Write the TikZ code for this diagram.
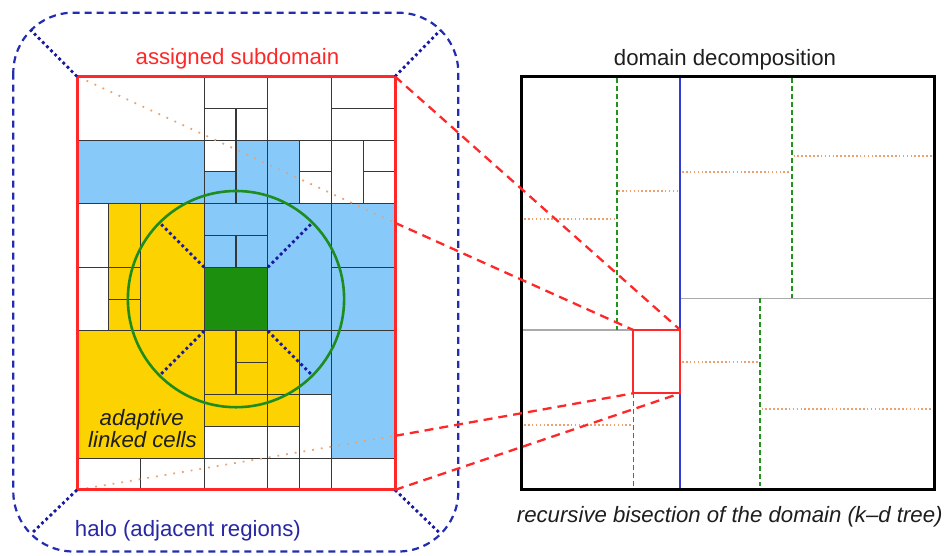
\documentclass[tikz,border=0pt]{standalone}
\usepackage{fontspec}
\setmainfont{Liberation Sans}
\usetikzlibrary{calc}
\definecolor{cellblue}{RGB}{135,202,250}
\definecolor{cellyellow}{RGB}{252,210,0}
\definecolor{cellgreen}{RGB}{28,144,14}
\definecolor{circgreen}{RGB}{30,140,30}
\definecolor{redc}{RGB}{255,40,40}
\definecolor{halob}{RGB}{35,45,175}
\definecolor{halotext}{RGB}{40,40,165}
\definecolor{dotb}{RGB}{25,25,160}
\definecolor{orangedot}{RGB}{235,160,110}
\definecolor{gridc}{RGB}{55,55,55}
\definecolor{lgray}{RGB}{170,170,170}
\definecolor{kdblue}{RGB}{50,60,210}
\definecolor{kdgreen}{RGB}{30,150,30}
\definecolor{txtc}{RGB}{30,30,30}
\tikzset{
  lbl/.style={font=\fontsize{22.2}{26}\selectfont, inner sep=0pt},
  ilbl/.style={font=\fontsize{22.2}{26}\selectfont\itshape, inner sep=0pt, text=txtc},
  cell/.style={draw=gridc, line width=1.1pt},
  halobox/.style={draw=halob, line width=2.2pt, dash pattern=on 7pt off 5pt, rounded corners=60pt},
  bluedots/.style={draw=dotb, line width=2.8pt, line cap=butt, dash pattern=on 2.8pt off 3pt},
  odotsL/.style={draw=orangedot, line width=1.7pt, dash pattern=on 1.8pt off 7pt},
  odotsR/.style={draw=orangedot, line width=1.8pt, dash pattern=on 1.6pt off 2.3pt},
  reddash/.style={draw=redc, line width=2.3pt, dash pattern=on 9pt off 6pt},
  kdgdash/.style={draw=kdgreen, line width=2pt, dash pattern=on 5pt off 3pt},
  kdgthin/.style={draw=kdgreen, line width=1.3pt, dash pattern=on 5pt off 3pt},
  graysplit/.style={draw=lgray, line width=1.5pt},
}
\begin{document}
\begin{tikzpicture}[x=1pt,y=-1pt]
\useasboundingbox (0,0) rectangle (951,556);
\fill[white] (0,0) rectangle (951,556);

% ---------- left: subdomain cells ----------
\begin{scope}[shift={(77,76.5)}, x=31.8pt, y=-31.8pt]
  \foreach \a/\b/\c/\d in {0/0/4/2, 4/0/6/1, 4/1/5/2, 5/1/6/2, 6/0/8/2, 8/0/10/1, 8/1/10/2,
      4/2/5/3, 7/2/8/3, 7/3/8/4, 8/2/9/4, 9/2/10/3, 9/3/10/4, 0/4/1/6, 0/6/1/8,
      7/10/8/12, 4/11/6/12, 6/11/7/12, 0/12/2/13, 2/12/4/13, 4/12/6/13, 6/12/7/13, 7/12/8/13, 8/12/10/13}
    \filldraw[cell, fill=white] (\a,\b) rectangle (\c,\d);
  \foreach \a/\b/\c/\d in {0/2/4/4, 4/3/5/4, 5/2/6/4, 6/2/7/4, 4/4/6/5, 4/5/5/6, 5/5/6/6,
      6/4/8/8, 8/4/10/6, 8/6/10/8, 7/8/8/10, 8/8/10/12}
    \filldraw[cell, fill=cellblue] (\a,\b) rectangle (\c,\d);
  \foreach \a/\b/\c/\d in {1/4/2/6, 1/6/2/7, 1/7/2/8, 2/4/4/8, 0/8/4/12, 4/8/5/10, 5/8/6/9,
      5/9/6/10, 6/8/7/10, 4/10/6/11, 6/10/7/11}
    \filldraw[cell, fill=cellyellow] (\a,\b) rectangle (\c,\d);
  \filldraw[cell, fill=cellgreen] (4,6) rectangle (6,8);

  % cutoff circle and its radii
  \coordinate (cc) at (5,7);
  \draw[circgreen, line width=2.6pt] (cc) circle [radius=3.4];
  \coordinate (gTL) at (4,6);
  \coordinate (gTR) at (6,6);
  \coordinate (gBL) at (4,8);
  \coordinate (gBR) at (6,8);
  \coordinate (rTL) at (2.596,4.596);
  \coordinate (rTR) at (7.404,4.596);
  \coordinate (rBL) at (2.596,9.404);
  \coordinate (rBR) at (7.404,9.404);
  \draw[bluedots] (gTL) -- (rTL);
  \draw[bluedots] (gTR) -- (rTR);
  \draw[bluedots] (gBL) -- (rBL);
  \draw[bluedots] (gBR) -- (rBR);

  % projection lines
  \coordinate (sTL) at (0,0);
  \coordinate (sTR) at (10,0);
  \coordinate (sBL) at (0,13);
  \coordinate (sBR) at (10,13);
  \coordinate (sR1) at (10,4.6);
  \coordinate (sR2) at (10,11.3);
  \draw[odotsL] ($(sTL)+(0.3,0.13)$) -- (sR1);
  \draw[odotsL] ($(sBL)+(0.3,-0.05)$) -- (sR2);
\end{scope}

\node[ilbl, anchor=base] (adapt) at (141.7,425.7) {adaptive};
\node[ilbl, anchor=base] (linked) at (142.5,447.3) {linked cells};

% assigned subdomain frame
\draw[redc, line width=3pt] (sTL) rectangle (sBR);
\node[lbl, text=redc, anchor=base] (assigned) at (237.5,64.3) {assigned subdomain};

% halo
\draw[halobox] (13.3,12.7) rectangle (458.3,551.5);
\coordinate (hTL) at (31.0,30.4);
\coordinate (hTR) at (440.0,30.6);
\coordinate (hBL) at (32.0,533.0);
\coordinate (hBR) at (440.0,533.3);
\draw[bluedots] (sTL) -- (hTL);
\draw[bluedots] (sTR) -- (hTR);
\draw[bluedots] (sBL) -- (hBL);
\draw[bluedots] (sBR) -- (hBR);
\node[lbl, text=halotext, anchor=base] (halo) at (187.9,536.7) {halo (adjacent regions)};

% ---------- right: k-d tree decomposition ----------
\coordinate (bTL) at (521.7,76.7);
\coordinate (bBR) at (934.3,489.3);
% orange dotted (third level)
\draw[odotsR] (524,219.3) -- (615.5,219.3);
\draw[odotsR] (618,190.7) -- (679,190.7);
\draw[odotsR] (682,171.7) -- (791,171.7);
\draw[odotsR] (793.5,155.7) -- (932,155.7);
\draw[odotsR] (682,361.7) -- (759,361.7);
\draw[odotsR] (761.5,409.3) -- (932,409.3);
\draw[odotsR] (524,425) -- (632,425);
% gray (second level)
\draw[graysplit] (523,330) -- (680.3,330);
\draw[graysplit] (680.3,298.3) -- (933,298.3);
% green dashed (splits)
\draw[kdgdash] (616.7,78) -- (616.7,330);
\draw[kdgdash] (792,78) -- (792,298.3);
\draw[kdgdash] (760,298.3) -- (760,486);
\draw[kdgthin] (633.3,393.3) -- (633.3,488);
% blue (first level)
\draw[kdblue, line width=1.8pt] (680.3,76.7) -- (680.3,489.3);
% frame
\draw[black, line width=3.5pt] (bTL) rectangle (bBR);
\node[lbl, text=txtc, anchor=base] (dd) at (725,66) {domain decomposition};
\node[ilbl, anchor=base west] (rb) at (516.7,522.5) {recursive bisection of the domain (k–d tree)};

% the subdomain in the tree
\coordinate (kTL) at (633.3,330);
\coordinate (kTR) at (680.3,330);
\coordinate (kBL) at (633.3,393.3);
\coordinate (kBR) at (680.3,393.3);
\draw[redc, line width=2pt] (kTL) rectangle (kBR);

% zoom connectors
\draw[reddash] (sTR) -- (kTR);
\draw[reddash] (sR1) -- (kTL);
\draw[reddash] (sR2) -- (kBL);
\draw[reddash] (sBR) -- (kBR);
\end{tikzpicture}
\end{document}
